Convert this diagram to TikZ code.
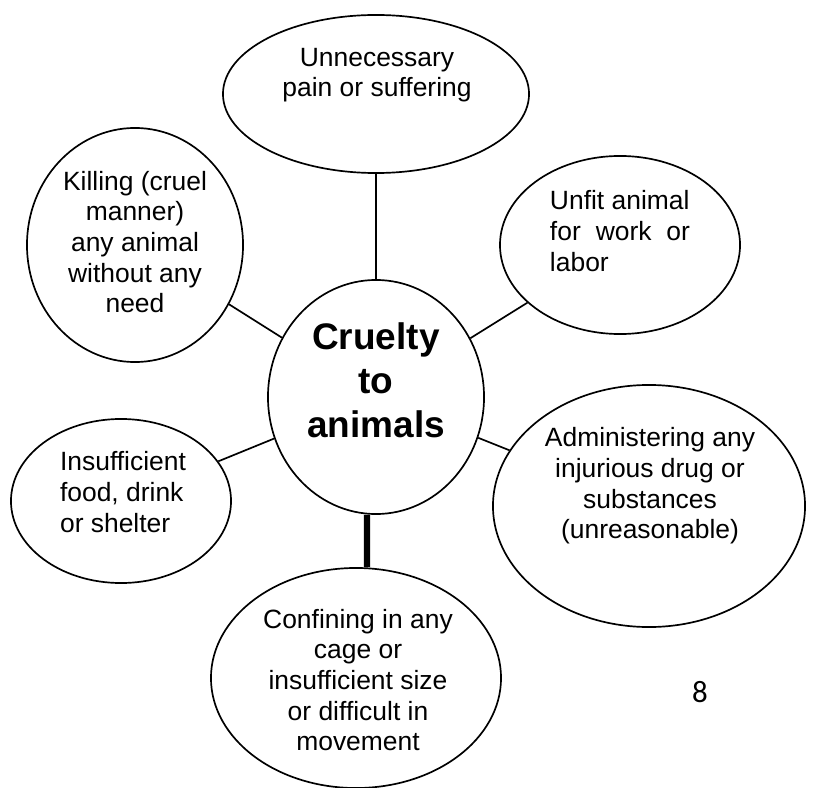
\documentclass[tikz,border=0pt]{standalone}
\usepackage{fontspec}
\setmainfont{Liberation Sans}
\newfontfamily\pagefont{Carlito}
\usetikzlibrary{shapes.geometric}

\tikzset{
  bubble/.style={draw,ellipse,line width=1.2pt,inner sep=0pt},
  words/.style={font=\fontsize{18.8}{21.8}\selectfont,inner sep=0pt},
  link/.style={line width=1.2pt},
}

\begin{document}
\begin{tikzpicture}[x=0.025cm,y=-0.025cm]
%\draw[step=50,gray,very thin] (0,0) grid (813,787);
\useasboundingbox (0,0) rectangle (813,787);
% bubbles
\node[bubble,minimum width=5.4cm,minimum height=5.85cm] (cruelty) at (376,397) {};
\node[bubble,minimum width=7.65cm,minimum height=3.95cm] (pain) at (376,94) {};
\node[bubble,minimum width=5.4cm,minimum height=5.85cm] (killing) at (135,245) {};
\node[bubble,minimum width=6cm,minimum height=4.45cm] (unfit) at (620,245) {};
\node[bubble,minimum width=5.5cm,minimum height=4.1cm] (food) at (121,501) {};
\node[bubble,minimum width=7.8cm,minimum height=6.05cm] (drug) at (649,506) {};
\node[bubble,minimum width=7.25cm,minimum height=5.5cm] (cage) at (356,678) {};
% texts
\node[font=\fontsize{26.3}{31.3}\selectfont\bfseries,align=center,inner sep=0pt] (crueltyT) at (376,380) {Cruelty\\to\\animals};
\node[words,align=center] (painT) at (377,75) {Unnecessary\\pain or suffering};
\node[words,align=center] (killingT) at (135,242) {Killing (cruel\\manner)\\any animal\\without any\\need};
\node[words,align=left] (unfitT) at (620,231) {Unfit animal\\\hbox to 3.5cm{for\hfill work\hfill or}\\labor};
\node[words,align=left] (foodT) at (123,492) {Insufficient\\food, drink\\or shelter};
\node[words,align=center] (drugT) at (650,486) {Administering any\\injurious drug or\\substances\\(unreasonable)};
\node[words,align=center] (cageT) at (358,680) {Confining in any\\cage or\\insufficient size\\or difficult in\\movement};
\node[font=\pagefont\fontsize{22}{26}\selectfont,inner sep=0pt] (page) at (700,692) {8};
% spokes
\draw[link] (cruelty) -- (pain);
\draw[link] (cruelty) -- (killing);
\draw[link] (cruelty) -- (unfit);
\draw[link] (cruelty) -- (food);
\draw[link] (cruelty) -- (drug);
\draw[line width=4.5pt] ([xshift=-0.225cm]cruelty.south) -- ([xshift=0.275cm]cage.north);
\end{tikzpicture}
\end{document}
